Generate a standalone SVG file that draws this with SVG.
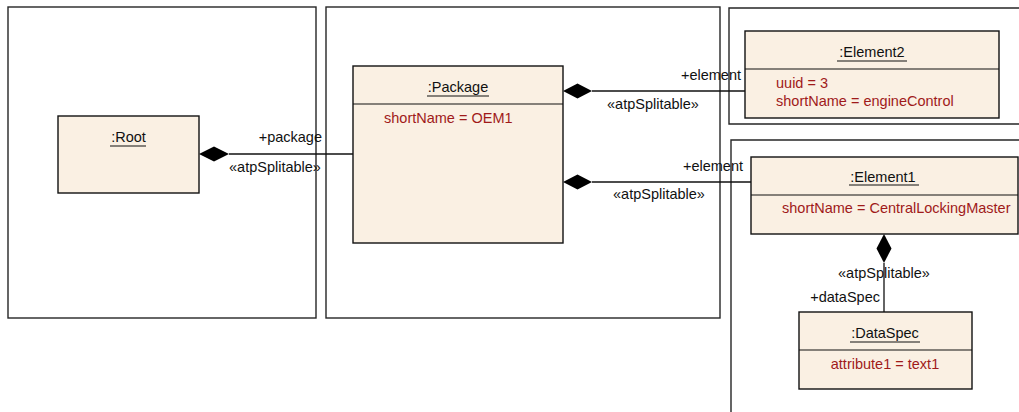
<svg xmlns="http://www.w3.org/2000/svg" width="1019" height="412" viewBox="0 0 1019 412">
<style>
.frame{fill:none;stroke:#262626;stroke-width:1.4}
.box{fill:#FAF0E3;stroke:#111;stroke-width:1.4}
.div{stroke:#111;stroke-width:1.2}
.conn{stroke:#111;stroke-width:1.3;fill:none}
.dia{fill:#000}
text{font-family:"Liberation Sans",Arial,sans-serif;font-size:14.5px}
.t{fill:#111}
.a{fill:#A01A1A}
.ul{stroke:#111;stroke-width:1.2}
</style>
<rect width="1019" height="412" fill="#fff"/>
<g id="frames">
<rect class="frame" x="8" y="7" width="308" height="311"/>
<rect class="frame" x="326" y="7" width="394" height="311"/>
<path class="frame" d="M1025 8 H729 V124 H1025"/>
<path class="frame" d="M1025 140 H731 V420"/>
</g>
<g id="connectors">
<line class="conn" x1="229" y1="154" x2="353" y2="154"/>
<polygon class="dia" points="199,154 214,146.5 229,154 214,161.5"/>
<text class="t" x="322" y="142" text-anchor="end">+package</text>
<text class="t" x="275" y="172" text-anchor="middle">«atpSplitable»</text>
<line class="conn" x1="592" y1="91" x2="745" y2="91"/>
<polygon class="dia" points="563,91 577.5,83.5 592,91 577.5,98.5"/>
<text class="t" x="741" y="80" text-anchor="end">+element</text>
<text class="t" x="653" y="109" text-anchor="middle">«atpSplitable»</text>
<line class="conn" x1="592" y1="182" x2="751" y2="182"/>
<polygon class="dia" points="563,182 577.5,174.5 592,182 577.5,189.5"/>
<text class="t" x="743" y="171" text-anchor="end">+element</text>
<text class="t" x="659" y="199" text-anchor="middle">«atpSplitable»</text>
<line class="conn" x1="884" y1="263" x2="884" y2="312"/>
<polygon class="dia" points="884,234 891.5,248.5 884,263 876.5,248.5"/>
<text class="t" x="884" y="278" text-anchor="middle">«atpSplitable»</text>
<text class="t" x="880" y="302" text-anchor="end">+dataSpec</text>
</g>
<g id="root">
<rect class="box" x="58" y="116" width="141" height="77"/>
<text class="t" x="128.5" y="142" text-anchor="middle">:Root</text>
<line class="ul" x1="110" y1="146" x2="146" y2="146"/>
</g>
<g id="package">
<rect class="box" x="353" y="66" width="210" height="177"/>
<line class="div" x1="353" y1="104" x2="563" y2="104"/>
<text class="t" x="458" y="92" text-anchor="middle">:Package</text>
<line class="ul" x1="427" y1="96" x2="489" y2="96"/>
<text class="a" x="384" y="123">shortName = OEM1</text>
</g>
<g id="element2">
<rect class="box" x="745" y="31" width="254" height="87"/>
<line class="div" x1="745" y1="69" x2="999" y2="69"/>
<text class="t" x="872" y="57" text-anchor="middle">:Element2</text>
<line class="ul" x1="837" y1="61" x2="907" y2="61"/>
<text class="a" x="776" y="88">uuid = 3</text>
<text class="a" x="776" y="106">shortName = engineControl</text>
</g>
<g id="element1">
<rect class="box" x="751" y="157" width="267" height="77"/>
<line class="div" x1="751" y1="195" x2="1018" y2="195"/>
<text class="t" x="883" y="182" text-anchor="middle">:Element1</text>
<line class="ul" x1="849" y1="185" x2="919" y2="185"/>
<text class="a" x="782" y="213">shortName = CentralLockingMaster</text>
</g>
<g id="dataspec">
<rect class="box" x="799" y="312" width="173" height="77"/>
<line class="div" x1="799" y1="350" x2="972" y2="350"/>
<text class="t" x="885" y="338" text-anchor="middle">:DataSpec</text>
<line class="ul" x1="850" y1="342" x2="920" y2="342"/>
<text class="a" x="885" y="369" text-anchor="middle">attribute1 = text1</text>
</g>
</svg>
